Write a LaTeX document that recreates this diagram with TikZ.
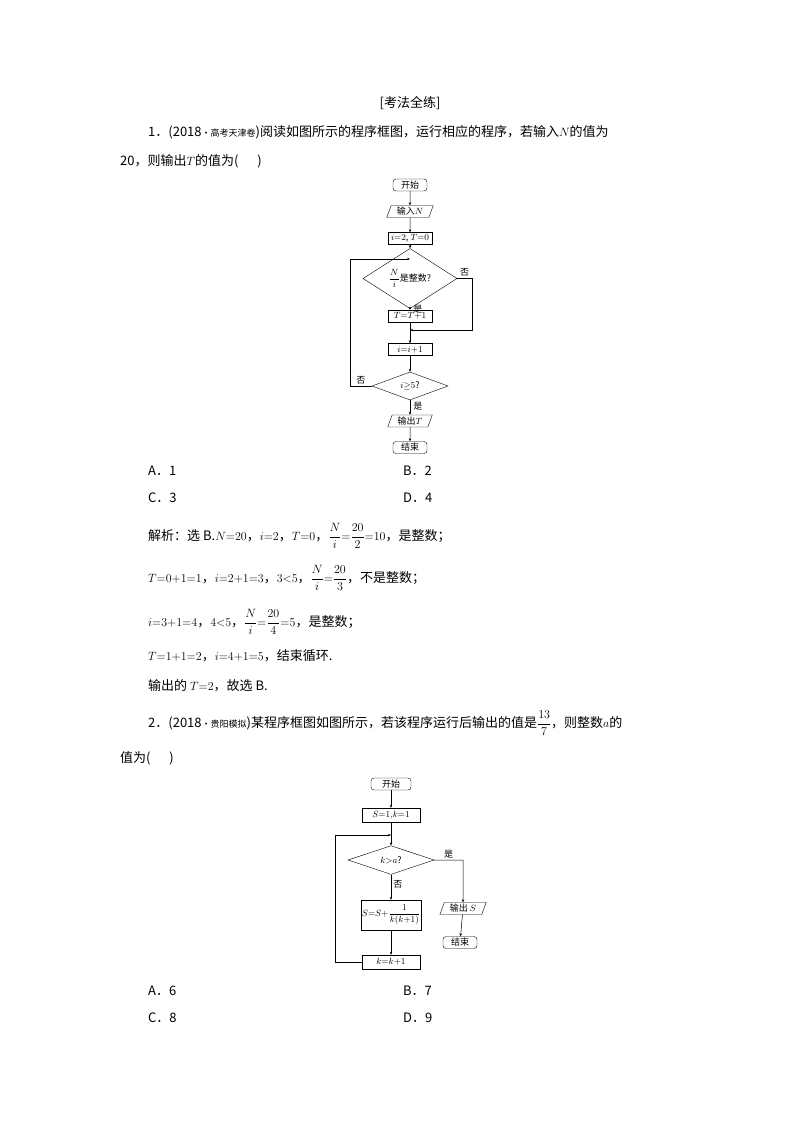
\documentclass[tikz,border=0pt]{standalone}
\usepackage{amsmath}
\usepackage{fontspec}
\setmainfont{Noto Sans CJK SC}
\usetikzlibrary{positioning}
\usetikzlibrary{shapes.geometric}
\usetikzlibrary{arrows.meta}
\tikzset{
	every node/.style = {font=\fontsize{13}{15}\selectfont},
	txt/.style = {anchor=base west, inner sep=0pt},
	fc/.style = {font=\fontsize{9}{10}\selectfont, inner sep=1pt},
	term/.style = {fc, draw, rounded corners=3pt, minimum width=34, minimum height=12},
	proc/.style = {fc, draw, minimum width=44, minimum height=12},
	io/.style = {fc, draw, trapezium, trapezium left angle=70, trapezium right angle=110,
	             minimum width=40, minimum height=12, inner xsep=3pt},
	dec/.style = {fc, draw, diamond, inner sep=0pt},
	flow/.style = {-{Stealth[length=3pt,width=2.5pt]}, line width=0.5pt},
	lbl/.style = {fc, inner sep=0pt}
}
\begin{document}
\begin{tikzpicture}[x=1pt, y=-1pt]
		\useasboundingbox (0,0) rectangle (794,1123);
		% problem 1 text
		\node[anchor=base] (head) at (410,108) {[考法全练]};
		\node[txt] (q1a) at (148,137) {1．(2018{\fontsize{9}{10}\selectfont ·高考天津卷})阅读如图所示的程序框图，运行相应的程序，若输入$N$的值为};
		\node[txt] (q1b) at (120,166) {20，则输出$T$的值为(\quad\ \ )};
		% flowchart 1
		\node[term] (s1) at (410,185) {开始};
		\node[io] (in1) at (410,211.5) {输入$N$};
		\node[proc] (init1) at (410,238.5) {$i{=}2$, $T{=}0$};
		\coordinate (j1) at (410,259);
		\node[dec, minimum width=94, minimum height=31] (d1) at (410,278.5) {$\dfrac{N}{i}$是整数?};
		\node[proc] (inc1) at (410,316) {$T{=}T{+}1$};
		\coordinate (j2) at (410,330);
		\node[proc] (ii1) at (410,349.5) {$i{=}i{+}1$};
		\node[dec, minimum width=76, minimum height=28] (d2) at (410,386) {$i{\ge}5$?};
		\node[io] (out1) at (410,421) {输出$T$};
		\node[term] (e1) at (410,447.5) {结束};
		\draw[flow] (s1) -- (in1);
		\draw[flow] (in1) -- (init1);
		\draw[flow] (init1) -- (d1);
		\draw[flow] (d1) -- node[lbl, right=3pt, pos=0.3] {是} (inc1);
		\draw[flow] (inc1) -- (ii1);
		\draw[flow] (ii1) -- (d2);
		\draw[flow] (d2) -- node[lbl, right=3pt, pos=0.4] {是} (out1);
		\draw[flow] (out1) -- (e1);
		\draw[flow] (d1.east) -- node[lbl, above=2pt, pos=0.5] {否} (472,278.5) |- (j2);
		\draw[flow] (d2.west) -- node[lbl, above=2pt, pos=0.5] {否} (350,386) |- (j1);
		% options 1
		\node[txt] (a1) at (148,475) {A．1};
		\node[txt] (b1) at (403,475) {B．2};
		\node[txt] (c1) at (148,502) {C．3};
		\node[txt] (d1o) at (403,502) {D．4};
		% solution
		\node[txt] (sol1) at (148,540) {解析：选 B.$N{=}20$，$i{=}2$，$T{=}0$，$\dfrac{N}{i}{=}\dfrac{20}{2}{=}10$，是整数；};
		\node[txt] (sol2) at (148,582) {$T{=}0{+}1{=}1$，$i{=}2{+}1{=}3$，$3{<}5$，$\dfrac{N}{i}{=}\dfrac{20}{3}$，不是整数；};
		\node[txt] (sol3) at (148,626) {$i{=}3{+}1{=}4$，$4{<}5$，$\dfrac{N}{i}{=}\dfrac{20}{4}{=}5$，是整数；};
		\node[txt] (sol4) at (148,660) {$T{=}1{+}1{=}2$，$i{=}4{+}1{=}5$，结束循环.};
		\node[txt] (sol5) at (148,690) {输出的 $T{=}2$，故选 B.};
		% problem 2 text
		\node[txt] (q2a) at (148,727) {2．(2018{\fontsize{9}{10}\selectfont ·贵阳模拟})某程序框图如图所示，若该程序运行后输出的值是$\dfrac{13}{7}$，则整数$a$的};
		\node[txt] (q2b) at (120,762) {值为(\quad\ \ )};
		% flowchart 2
		\node[term, minimum width=40] (s2) at (391,784) {开始};
		\node[proc, minimum width=58, minimum height=14] (init2) at (391,815) {$S{=}1{,}k{=}1$};
		\coordinate (j3) at (391,835);
		\node[dec, minimum width=86, minimum height=26] (d3) at (391,860) {$k{>}a$?};
		\node[proc, minimum width=59, minimum height=30] (acc2) at (391,915) {$S{=}S{+}\dfrac{1}{k(k{+}1)}$};
		\node[proc, minimum width=58, minimum height=14] (inc2) at (391,962) {$k{=}k{+}1$};
		\node[io, minimum width=38] (out2) at (463,908.5) {输出 $S$};
		\node[term] (e2) at (460,942.5) {结束};
		\draw[flow] (s2) -- (init2);
		\draw[flow] (init2) -- (d3);
		\draw[flow] (d3) -- node[lbl, right=2pt, pos=0.4] {否} (acc2);
		\draw[flow] (acc2) -- (inc2);
		\draw[flow] (d3.east) -- node[lbl, above=2pt, pos=0.5] {是} (463,860) -- (out2);
		\draw[flow] (out2) -- (e2);
		\draw[flow] (inc2.west) -- (335,962) |- (j3);
		% options 2
		\node[txt] (a2) at (148,995) {A．6};
		\node[txt] (b2) at (403,995) {B．7};
		\node[txt] (c2) at (148,1022) {C．8};
		\node[txt] (d2o) at (403,1022) {D．9};
\end{tikzpicture}
\end{document}
